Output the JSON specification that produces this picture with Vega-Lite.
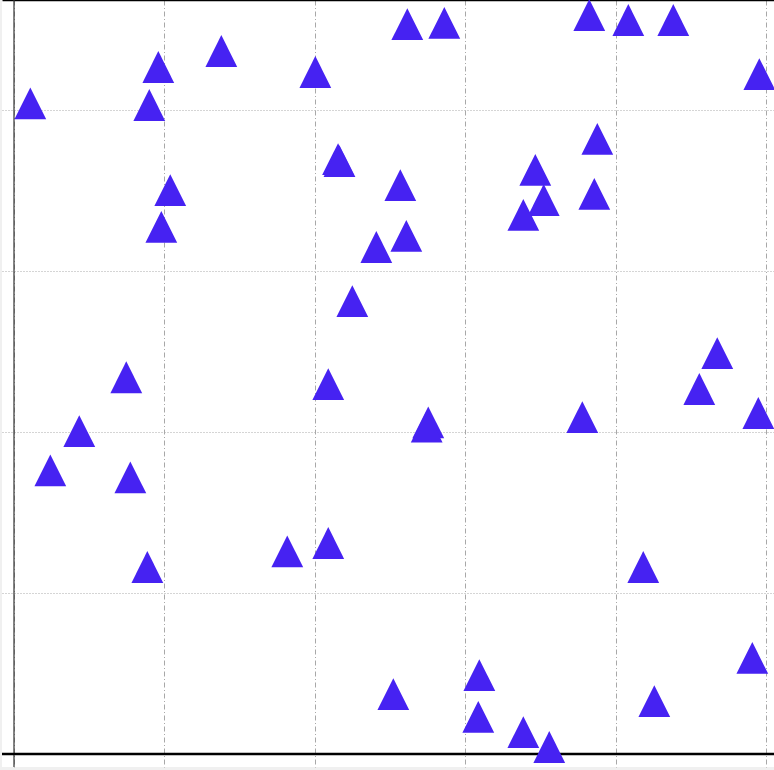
{
  "$schema": "https://vega.github.io/schema/vega-lite/v6.json",
  "width": 772,
  "height": 767,
  "autosize": {"type": "none"},
  "padding": {"left": 2, "top": 0, "right": 0, "bottom": 3},
  "background": "#f0f0f0",
  "config": {"view": {"fill": "white", "stroke": null}},
  "data": {
    "values": [
      {"x": 0.0217, "y": 0.8083}, {"x": 0.1919, "y": 0.8534}, {"x": 0.2757, "y": 0.8733},
      {"x": 0.4007, "y": 0.8472}, {"x": 0.1799, "y": 0.8062}, {"x": 0.4309, "y": 0.7391},
      {"x": 0.4328, "y": 0.7366}, {"x": 0.2078, "y": 0.7006}, {"x": 0.1959, "y": 0.6547},
      {"x": 0.4818, "y": 0.6298}, {"x": 0.4499, "y": 0.5627}, {"x": 0.1493, "y": 0.468},
      {"x": 0.4179, "y": 0.4596}, {"x": 0.0868, "y": 0.4012}, {"x": 0.0483, "y": 0.3524},
      {"x": 0.1547, "y": 0.3437}, {"x": 0.1773, "y": 0.2323}, {"x": 0.3634, "y": 0.2518},
      {"x": 0.4179, "y": 0.2621}, {"x": 0.5509, "y": 0.412}, {"x": 0.5488, "y": 0.4066},
      {"x": 0.7557, "y": 0.4186}, {"x": 0.9113, "y": 0.4534}, {"x": 0.9898, "y": 0.4236},
      {"x": 0.8368, "y": 0.2323}, {"x": 0.9818, "y": 0.1193}, {"x": 0.5044, "y": 0.0745},
      {"x": 0.6188, "y": 0.0981}, {"x": 0.6174, "y": 0.046}, {"x": 0.8515, "y": 0.0658},
      {"x": 0.6773, "y": 0.0273}, {"x": 0.7118, "y": 0.0087}, {"x": 0.523, "y": 0.9068},
      {"x": 0.5722, "y": 0.9081}, {"x": 0.765, "y": 0.918}, {"x": 0.8169, "y": 0.9118},
      {"x": 0.8767, "y": 0.9118}, {"x": 0.9911, "y": 0.8447}, {"x": 0.7757, "y": 0.764},
      {"x": 0.6932, "y": 0.7255}, {"x": 0.7044, "y": 0.6882}, {"x": 0.6773, "y": 0.6696},
      {"x": 0.7717, "y": 0.6957}, {"x": 0.5137, "y": 0.7068}, {"x": 0.5217, "y": 0.6435},
      {"x": 0.9352, "y": 0.4981}
    ]
  },
  "layer": [
    {
      "data": {"values": [{"v": 0}]},
      "mark": {"type": "rule", "color": "#333333", "strokeWidth": 1.2},
      "encoding": {
        "x": {
          "field": "v", "type": "quantitative",
          "axis": {"orient": "top", "domain": true, "domainColor": "black", "domainWidth": 1.6, "ticks": false, "labels": false, "grid": false, "title": null}
        }
      }
    },
    {
      "data": {"values": [{"v": 0}]},
      "mark": {"type": "rule", "color": "black", "strokeWidth": 2.6},
      "encoding": {
        "y": {
          "field": "v", "type": "quantitative",
          "axis": {"orient": "left", "domain": false, "ticks": false, "labels": false, "grid": true, "gridColor": "#aaaaaa", "gridWidth": 1, "gridDash": [1, 2], "values": [0, 0.2, 0.4, 0.6, 0.8], "title": null}
        }
      }
    },
    {
      "mark": {"type": "point", "shape": "M0,-1L-1,1L1,1Z", "filled": true, "size": 1010, "color": "#4622f2", "opacity": 1},
      "encoding": {
        "x": {
          "field": "x", "type": "quantitative",
          "scale": {"domain": [-0.015957, 1.010638], "nice": false, "zero": false},
          "axis": {"orient": "bottom", "domain": false, "ticks": false, "labels": false, "grid": true, "gridColor": "#a8a8a8", "gridWidth": 1, "gridDash": [5, 2.5, 1, 2.5], "values": [0, 0.2, 0.4, 0.6, 0.8, 1.0], "title": null}
        },
        "y": {
          "field": "y", "type": "quantitative",
          "scale": {"domain": [-0.016149, 0.936646], "nice": false, "zero": false},
          "axis": {"orient": "left", "domain": false, "ticks": false, "labels": false, "grid": true, "gridColor": "#aaaaaa", "gridWidth": 1, "gridDash": [1, 2], "values": [0, 0.2, 0.4, 0.6, 0.8], "title": null}
        }
      }
    }
  ],
  "resolve": {"axis": {"x": "independent"}}
}
